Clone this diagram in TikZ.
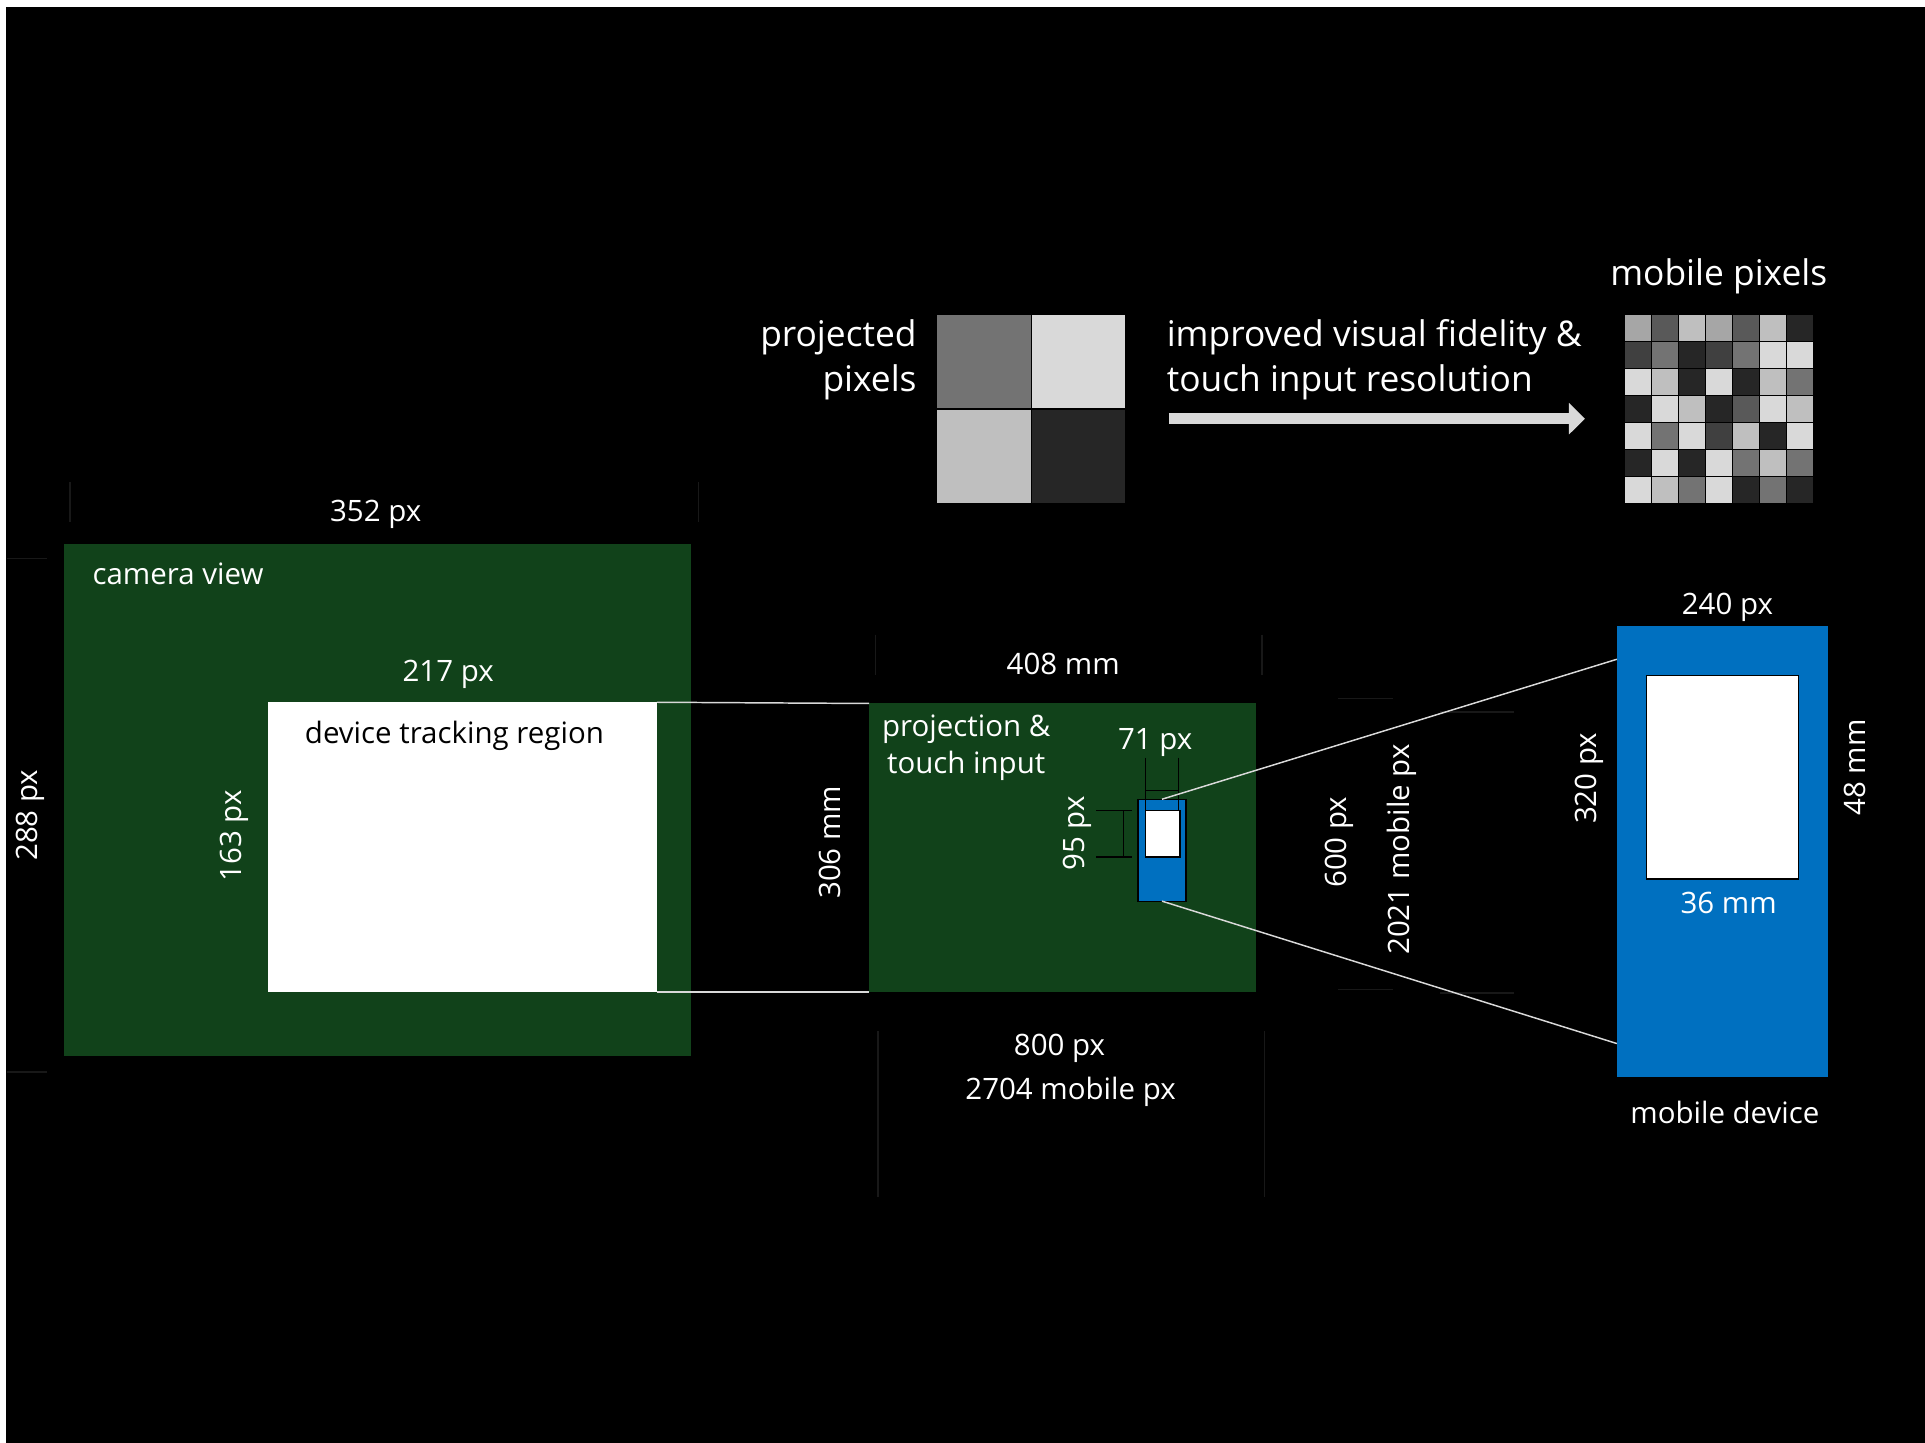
\documentclass[tikz,border=0pt]{standalone}
\usepackage{fontspec}
\setmainfont{Open Sans}
\usetikzlibrary{arrows.meta,calc}

\definecolor{fieldgreen}{RGB}{17,66,26}
\definecolor{devblue}{RGB}{0,112,192}
\definecolor{faintline}{RGB}{24,24,24}
\definecolor{arrowgray}{RGB}{217,217,217}
\definecolor{c26}{RGB}{38,38,38}
\definecolor{c40}{RGB}{64,64,64}
\definecolor{c59}{RGB}{89,89,89}
\definecolor{c73}{RGB}{115,115,115}
\definecolor{ca6}{RGB}{166,166,166}
\definecolor{cbf}{RGB}{191,191,191}
\definecolor{cd9}{RGB}{217,217,217}

\newcommand\normtxt{\fontsize{12pt}{15pt}\selectfont}
\newcommand\largetxt{\fontsize{14.4pt}{18pt}\selectfont}

% rectangle node from its top-left (x1,y1) to bottom-right (x2,y2), 1 unit = 0.5pt
\newcommand\pxbox[6]{%
  \node[#6, anchor=north west, inner sep=0pt, outer sep=0pt,
        minimum width={(#4-#2)*0.5pt}, minimum height={(#5-#3)*0.5pt}]
        (#1) at (#2,#3) {};}

\tikzset{
  lbl/.style={text=white, font=\normtxt, inner sep=0pt,
              text height=0.9em, text depth=0.06em},
  vlbl/.style={lbl, rotate=90},
  field/.style={fill=fieldgreen},
  screen/.style={fill=white, draw=black, line width=0.6pt},
  device/.style={fill=devblue, draw=black, line width=0.5pt},
  guide/.style={white!85!black, line width=0.6pt},
  faint/.style={faintline, line width=0.6pt},
  measure/.style={black, line width=0.6pt},
  cell/.style={draw=black, line width=0.6pt},
}

\begin{document}
\begin{tikzpicture}[x=0.5pt, y=-0.5pt]
  % page
  \fill[white] (0,0) rectangle (1568,1175);
  \fill[black] (5,6) rectangle (1568,1175);
  \useasboundingbox (0,0) rectangle (1568,1175);

  % ---- camera view and tracking region
  \pxbox{cam}{52}{443}{563}{860}{field}
  \pxbox{trk}{218}{572}{535}{808}{fill=white}
  \node[lbl, anchor=west] (camlbl) at (75,468) {camera view};
  \node[lbl, anchor=west, text=black] (trklbl) at (248,597) {device tracking region};
  \node[lbl] (w352) at (306,416) {352 px};
  \node[vlbl] (h288) at (22,664) {288 px};
  \node[lbl] (w217) at (365,547) {217 px};
  \node[vlbl] (h163) at (188,681) {163 px};

  % faint extension lines
  \draw[faint] (57,393) -- (57,425) (569,393) -- (569,425);
  \draw[faint] (6,455) -- (38,455) (6,873) -- (38,873);

  % ---- projection surface
  \pxbox{proj}{708}{573}{1023}{808}{field}
  \draw[guide] (trk.north east) -- (proj.north west);
  \draw[guide] (trk.south east) -- (proj.south west);
  \node[lbl, align=center, text height=, text depth=] (projlbl) at (787,609)
       {projection \&\\touch input};
  \node[lbl] (w408) at (866,541) {408 mm};
  \node[vlbl] (h306) at (676,686) {306 mm};
  \node[lbl] (w800) at (863,851) {800 px};
  \node[lbl] (w2704) at (872,887) {2704 mobile px};
  \node[vlbl] (h600) at (1088,686) {600 px};
  \node[vlbl] (h2021) at (1140,692) {2021 mobile px};

  \draw[faint] (713,517) -- (713,550) (1028,517) -- (1028,550);
  \draw[faint] (715,840) -- (715,975) (1030,840) -- (1030,975);
  \draw[faint] (1090,569) -- (1135,569) (1090,806) -- (1135,806);
  \draw[faint] (1173,580) -- (1233,580) (1173,809) -- (1233,809);

  % small device on the surface
  \pxbox{sdev}{927}{651}{966}{734}{device}
  \pxbox{sscr}{933}{660}{961}{698}{screen}
  \node[lbl] (w71) at (941,602) {71 px};
  \node[vlbl] (h95) at (875,679) {95 px};
  \coordinate (m71a) at (933,617);
  \coordinate (m71b) at (960,617);
  \draw[measure] (m71a) -- (m71a |- sscr.north) ;
  \draw[measure] (m71b) -- (m71b |- sscr.north);
  \draw[measure] ($(m71a)+(0,27)$) -- ($(m71b)+(0,27)$);
  \coordinate (m95a) at (893,660);
  \coordinate (m95b) at (893,698);
  \draw[measure] (m95a) -- ++(29,0) (m95b) -- ++(29,0);
  \draw[measure] (915,660) -- (915,698);

  % ---- mobile device (enlarged)
  \pxbox{bdev}{1317}{510}{1489}{877}{fill=devblue}
  \pxbox{bscr}{1341}{550}{1465}{716}{screen}
  \coordinate (bdevA) at ($(bdev.north west)+(0,27)$);
  \coordinate (bdevB) at ($(bdev.south west)+(0,-27)$);
  \draw[guide] (sdev.north) -- (bdevA);
  \draw[guide] (sdev.south) -- (bdevB);
  \node[lbl] (w240) at (1407,492) {240 px};
  \node[vlbl] (h320) at (1292,634) {320 px};
  \node[vlbl] (h48) at (1511,625) {48 mm};
  \node[lbl] (w36) at (1408,736) {36 mm};
  \node[lbl] (devlbl) at (1405,907) {mobile device};

  % ---- projected pixels (2 x 2)
  \foreach \row [count=\r from 0] in {{73,d9},{bf,26}} {
    \foreach \c [count=\k from 0] in \row {
      \fill[c\c, cell] (763+77*\k, 256+77*\r) rectangle ++(77,77);
    }
  }
  \node[text=white, font=\largetxt, align=right, inner sep=0pt, anchor=east]
       (projpx) at (747,293) {projected\\pixels};

  % ---- arrow
  \node[text=white, font=\largetxt, align=left, inner sep=0pt, anchor=west]
       (improve) at (950,293) {improved visual fidelity \&\\touch input resolution};
  \coordinate (arrS) at (952,341);
  \coordinate (arrE) at (1291,341);
  \draw[arrowgray, line width=4.5pt,
        -{Triangle[length=6.5pt, width=12.5pt]}] (arrS) -- (arrE);

  % ---- mobile pixels (7 x 7)
  \foreach \row [count=\r from 0] in {
      {a6,59,bf,a6,59,bf,26},
      {40,73,26,40,73,d9,d9},
      {d9,bf,26,d9,26,bf,73},
      {26,d9,bf,26,59,d9,bf},
      {d9,73,d9,40,bf,26,d9},
      {26,d9,26,d9,73,bf,73},
      {d9,bf,73,d9,26,73,26}} {
    \foreach \c [count=\k from 0] in \row {
      \fill[c\c, cell] (1323+22*\k, 256+22*\r) rectangle ++(22,22);
    }
  }
  \node[text=white, font=\largetxt, inner sep=0pt] (mobpx) at (1400,225) {mobile pixels};
\end{tikzpicture}
\end{document}
